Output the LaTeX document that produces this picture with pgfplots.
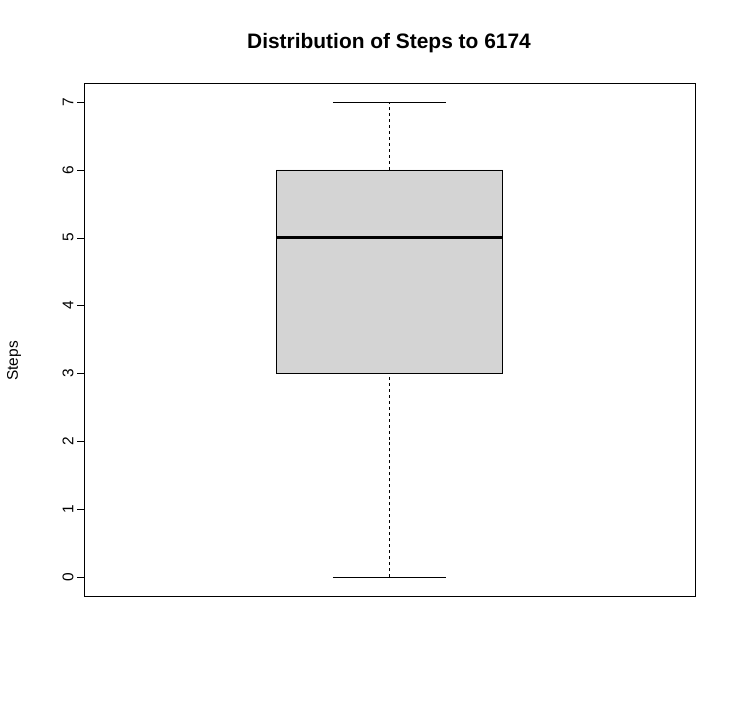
\documentclass[border=0pt]{standalone}
\usepackage{fontspec}
\setmainfont{Liberation Sans}
\usepackage{pgfplots}
\pgfplotsset{compat=1.18}
\begin{document}
\begin{tikzpicture}[x=1bp,y=1bp]
\useasboundingbox (0,0) rectangle (738,701);
\node[font=\fontsize{21}{24}\selectfont\bfseries] at (389,658) {Distribution of Steps to 6174};
\node[rotate=90,font=\fontsize{15.5}{18}\selectfont] at (14,340) {Steps};
\begin{axis}[at={(84bp,105bp)},anchor=south west,scale only axis,
 width=611bp,height=513bp,xmin=0.5,xmax=1.5,ymin=-0.28,ymax=7.28,
 xtick=\empty,ytick={0,...,7},ytick pos=left,tick align=outside,major tick length=7bp,
 yticklabel style={rotate=90,font=\fontsize{15.5}{18}\selectfont},
 /pgf/number format/assume math mode=true,
 ytick style={black},axis line style={black},clip=false]
\addplot[fill=black!17,draw=black] coordinates {(0.815,3) (1.185,3) (1.185,6) (0.815,6) (0.815,3)};
\addplot[black,line width=2.6pt] coordinates {(0.815,5) (1.185,5)};
\addplot[black,dashed] coordinates {(1,6) (1,7)};
\addplot[black,dashed] coordinates {(1,0) (1,3)};
\addplot[black] coordinates {(0.9075,7) (1.0925,7)};
\addplot[black] coordinates {(0.9075,0) (1.0925,0)};
\end{axis}
\end{tikzpicture}
\end{document}
